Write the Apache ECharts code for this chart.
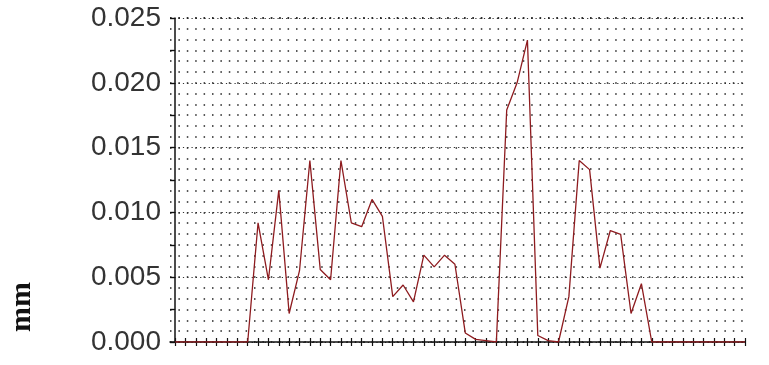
<!DOCTYPE html>
<html>
<head>
<meta charset="utf-8">
<script src="https://cdn.jsdelivr.net/npm/echarts@6/dist/echarts.min.js"></script>
<style>
html,body{margin:0;padding:0;background:#fff;}
#c{width:769px;height:365px;}
</style>
</head>
<body>
<div id="c"></div>
<script>
// values (mm) at each sample position along the x axis
const values = [
  0, 0, 0, 0, 0, 0, 0, 0,
  0.0092, 0.0048, 0.0117, 0.0022, 0.0055, 0.0140, 0.0056, 0.0048,
  0.0140, 0.0092, 0.0089, 0.0110, 0.0097, 0.0035, 0.0044, 0.0031,
  0.0067, 0.0058, 0.0067, 0.0060, 0.0007, 0.0002, 0.0001, 0,
  0.0179, 0.0200, 0.0233, 0.0005, 0.0001, 0, 0.0035, 0.0140,
  0.0133, 0.0057, 0.0086, 0.0083, 0.0022, 0.0045, 0,
  0, 0, 0, 0, 0, 0, 0, 0, 0
];
const yTicks = [0, 0.005, 0.010, 0.015, 0.020, 0.025];
const yName = 'mm';

const xIdx = values.map((_, i) => i);
const seriesData = values.map((v, i) => [xIdx[i], v]);

const chart = echarts.init(document.getElementById('c'), null, {renderer: 'canvas'});
const yMin = yTicks[0], yMax = yTicks[yTicks.length - 1];
const commonX = {
  type: 'value', min: -0.5, max: xIdx[xIdx.length - 1],
  axisLabel: {show: false}, splitLine: {show: false}
};
chart.setOption({
  animation: false,
  grid: {left: 170, right: 24, top: 18, bottom: 23},
  xAxis: [
    Object.assign({}, commonX, {
      axisLine: {show: true, onZero: false, lineStyle: {color: '#111', width: 1.5}},
      axisTick: {show: true, customValues: xIdx, length: 4, lineStyle: {color: '#111', width: 1.2}}
    }),
    Object.assign({}, commonX, {
      position: 'bottom',
      axisLine: {show: false},
      axisTick: {show: true, inside: true, customValues: xIdx, length: 4, lineStyle: {color: '#111', width: 1.2}}
    })
  ],
  yAxis: [
    {
      type: 'value', min: yMin, max: yMax, interval: 0.005,
      axisLine: {show: true, lineStyle: {color: '#111', width: 1.5}},
      axisTick: {show: true, length: 5, lineStyle: {color: '#111', width: 1.2}},
      minorTick: {show: true, splitNumber: 2, length: 5, lineStyle: {color: '#111', width: 1.2}},
      axisLabel: {
        margin: 9, color: '#333', fontFamily: 'Liberation Sans, Arial, sans-serif', fontSize: 28,
        formatter: v => v.toFixed(3)
      },
      splitLine: {show: true, lineStyle: {color: '#333', width: 1.2, type: [1.2, 3.1]}}
    },
    {
      type: 'value', min: yMin, max: yMax, interval: 0.025 / 30, position: 'left',
      axisLine: {show: false}, axisTick: {show: false}, axisLabel: {show: false},
      splitLine: {show: true, lineStyle: {color: '#222', width: 1.5, type: [1.5, 6.9]}}
    },
    {
      type: 'value', min: yMin, max: yMax, interval: 0.0025, position: 'left',
      axisLine: {show: false}, axisLabel: {show: false}, splitLine: {show: false},
      axisTick: {show: true, inside: true, length: 4, lineStyle: {color: '#111', width: 1.2}}
    }
  ],
  graphic: [{
    type: 'text', x: 22, y: 307, rotation: Math.PI / 2,
    style: {
      text: yName, font: 'bold 30px "Liberation Serif", "Times New Roman", serif',
      fill: '#111', align: 'center', verticalAlign: 'middle'
    }
  }],
  series: [{
    type: 'line', xAxisIndex: 0, yAxisIndex: 0,
    data: seriesData, showSymbol: false, symbol: 'none',
    lineStyle: {color: '#8e1b1f', width: 1.3}
  }]
});
</script>
</body>
</html>
